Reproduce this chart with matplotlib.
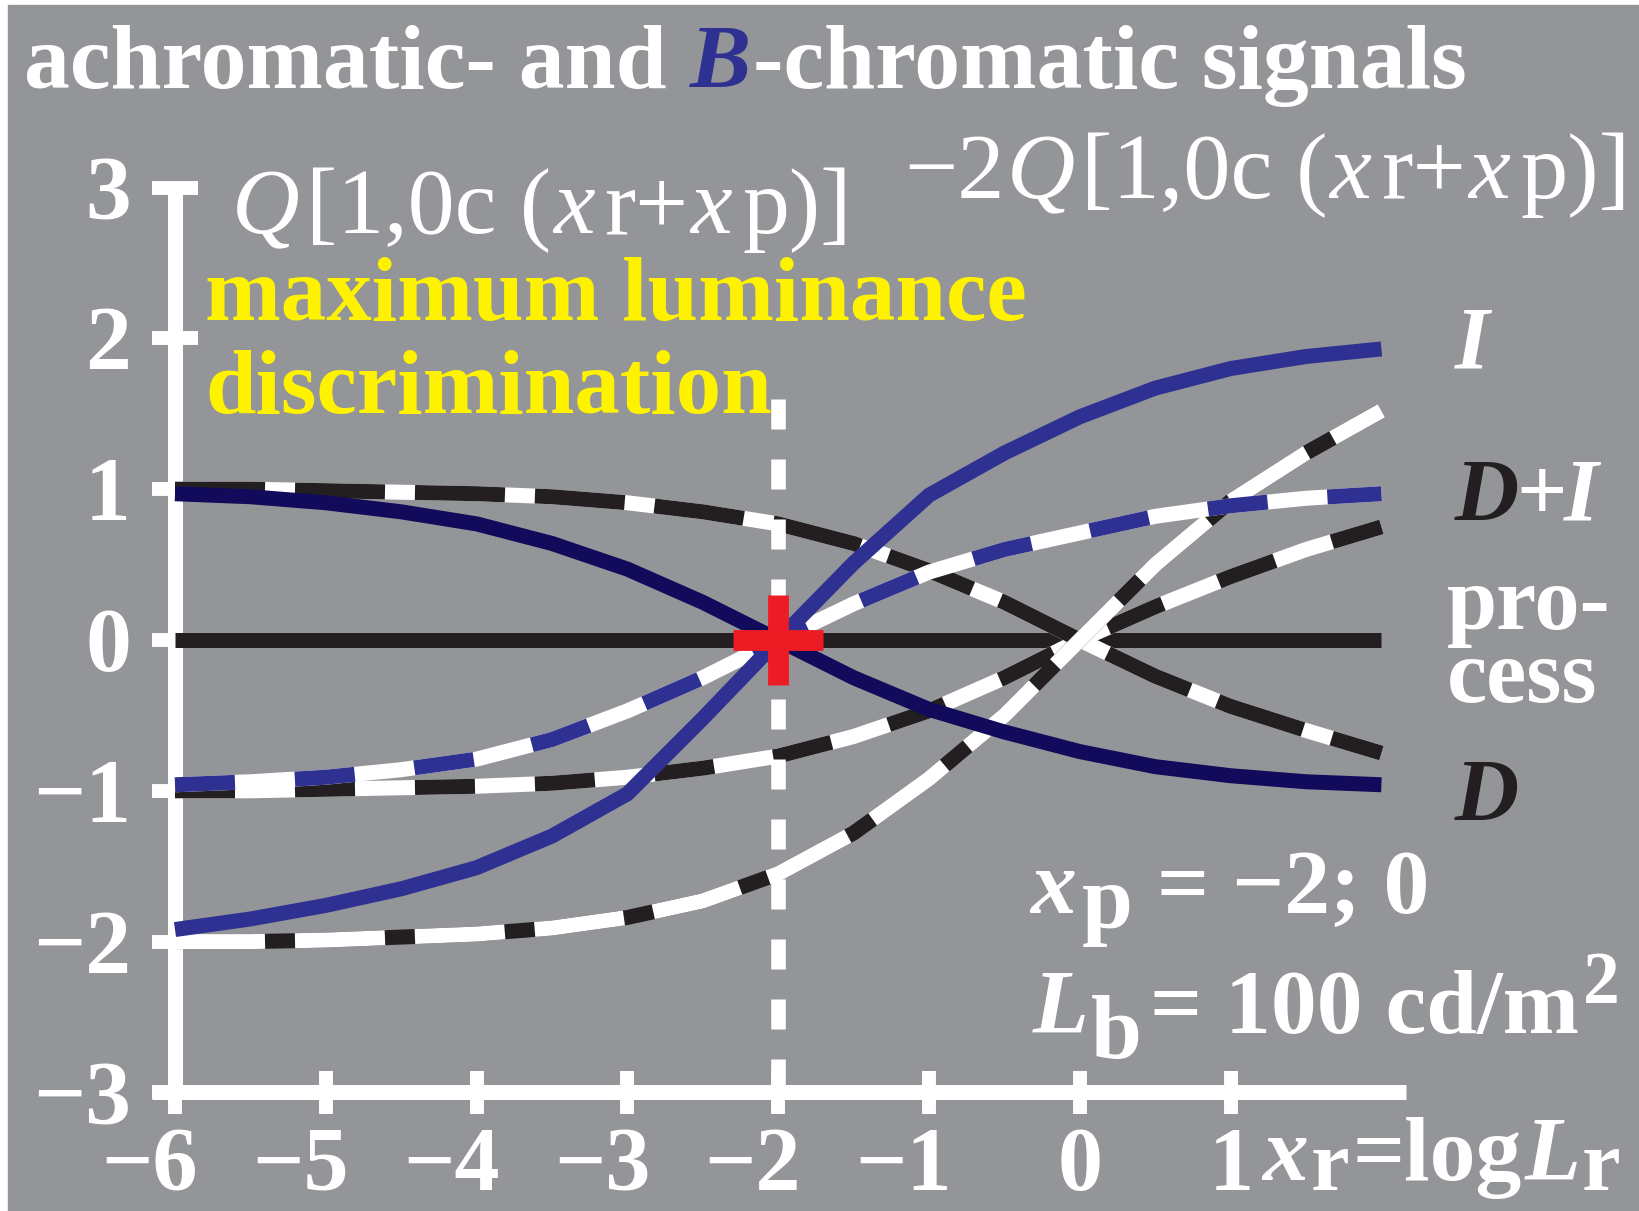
import matplotlib
matplotlib.use('Agg')
import matplotlib.pyplot as plt
from matplotlib.patches import Rectangle
from matplotlib.transforms import offset_copy

plt.rcParams['font.family'] = 'Liberation Serif'
plt.rcParams['lines.scale_dashes'] = False

W, H = 1639, 1211
GREY = '#939598'
NAVY = '#120A5B'
BLUE = '#2E3192'
BLACK = '#231F20'
RED = '#ED1C24'
YELLOW = '#FFF200'
LW = 10.8  # ~15 px

# x_r = log L_r
x_r = [-6, -5.5, -5, -4.5, -4, -3.5, -3, -2.5, -2, -1.5, -1, -0.5, 0, 0.5, 1, 1.5, 2]

# x_p = -2
d_m2 = [0.97, 0.95, 0.91, 0.85, 0.77, 0.64, 0.47, 0.25, 0.0,
        -0.25, -0.46, -0.61, -0.74, -0.84, -0.90, -0.94, -0.96]
i_m2 = [-1.92, -1.85, -1.76, -1.65, -1.51, -1.30, -1.02, -0.52, 0.0,
        0.51, 0.96, 1.24, 1.48, 1.67, 1.80, 1.88, 1.93]
di_m2 = [-0.96, -0.94, -0.91, -0.86, -0.79, -0.66, -0.47, -0.25, 0.0,
         0.24, 0.45, 0.60, 0.71, 0.82, 0.89, 0.94, 0.97]

# x_p = 0
d_0 = [1.0, 1.0, 0.99, 0.98, 0.97, 0.95, 0.91, 0.85, 0.77,
       0.64, 0.46, 0.25, 0.0, -0.24, -0.44, -0.60, -0.75]
i_0 = [-2.0, -2.0, -1.99, -1.97, -1.95, -1.91, -1.84, -1.73, -1.55,
       -1.28, -0.92, -0.50, 0.0, 0.50, 0.92, 1.24, 1.52]
di_0 = [-1.0, -1.0, -0.99, -0.98, -0.97, -0.95, -0.91, -0.85, -0.77,
        -0.64, -0.47, -0.25, 0.0, 0.22, 0.42, 0.60, 0.75]

x_ticks = [-6, -5, -4, -3, -2, -1, 0, 1]
y_ticks = [-3, -2, -1, 0, 1, 2, 3]

fig = plt.figure(figsize=(W / 100, H / 100), dpi=100, facecolor='white')
fig.patches.append(Rectangle((8 / W, 0), 1, 1 - 5 / H, transform=fig.transFigure,
                             color=GREY, zorder=-10))
ax = fig.add_axes([0, 0, 1, 1])
ax.set_facecolor('none')
ax.axis('off')
ax.set_xlim(-7.1605, 3.7082)
ax.set_ylim(-3.7865, 4.2440)

# axes drawn by hand
ax.plot([-6, -6], [-3, 3], color='white', lw=LW, solid_capstyle='butt', zorder=1)
ax.plot([-6.15, 2.16], [-3, -3], color='white', lw=LW, solid_capstyle='butt', zorder=1)
ax.hlines(y_ticks, -6.15, -5.85, color='white', lw=10, zorder=1)
ax.vlines(x_ticks, -3.14, -2.86, color='white', lw=10, zorder=1)

# zero line
ax.plot([x_r[0], x_r[-1]], [0, 0], color=BLACK, lw=LW, solid_capstyle='butt', zorder=2)


def dashed(y, base, top, on, off, z):
    ax.plot(x_r, y, color=base, lw=LW, solid_capstyle='butt', zorder=z)
    ax.plot(x_r, y, color=top, lw=LW, dashes=(on, off), dash_capstyle='butt',
            zorder=z + 0.1)


dashed(d_0, 'white', BLACK, 64.8, 21.6, 3)
dashed(di_0, 'white', BLACK, 43.2, 43.2, 3)
dashed(i_0, BLACK, 'white', 64.8, 21.6, 3)
dashed(di_m2, 'white', BLUE, 43.2, 43.2, 4)
ax.plot(x_r, d_m2, color=NAVY, lw=LW, solid_capstyle='butt', zorder=5)
ax.plot(x_r, i_m2, color=BLUE, lw=LW, solid_capstyle='butt', zorder=5)

# x_p = -2 marker line and cross
ax.plot([-2, -2], [1.6, -3], color='white', lw=10.5, dashes=(21.6, 21.6),
        dash_capstyle='butt', zorder=6)
ax.plot([-2], [0], marker='+', ms=65.5, mew=15, color=RED, zorder=7)

# tick labels
tx = offset_copy(ax.get_xaxis_transform(), fig=fig, x=23, y=0, units='dots')
for v in x_ticks:
    ax.text(v, 1 - 1190 / H, str(v).replace('-', '\u2212'), transform=tx,
            ha='right', va='baseline', color='white', fontsize=65, fontweight='bold')
ty = offset_copy(ax.get_yaxis_transform(), fig=fig, x=0, y=-31, units='dots')
for v in y_ticks:
    ax.text(131 / W, v, str(v).replace('-', '\u2212'), transform=ty,
            ha='right', va='baseline', color='white', fontsize=66, fontweight='bold')

renderer = fig.canvas.get_renderer()


def chain(x, y, parts, size):
    # parts: text, colour, style, weight, dy (px down), size factor, gap after (px)
    for s, c, st, wt, dy, sc, gap in parts:
        t = fig.text(x / W, 1 - (y + dy) / H, s, color=c, fontstyle=st, fontweight=wt,
                     fontsize=size * sc, ha='left', va='baseline')
        x = t.get_window_extent(renderer).x1 + gap


chain(24, 88, [('achromatic- and', 'white', 'normal', 'bold', 0, 1, 23),
               ('B', BLUE, 'italic', 'bold', 0, 1, 2),
               ('-chromatic signals', 'white', 'normal', 'bold', 0, 1, 0)], 66)

q_parts = [('Q', 'white', 'italic', 'normal', 0, 1, 6),
           ('[1,0c (', 'white', 'normal', 'normal', 0, 1, 2),
           ('x', 'white', 'italic', 'normal', 0, 1, 10),
           ('r+', 'white', 'normal', 'normal', 0, 1, 2),
           ('x', 'white', 'italic', 'normal', 0, 1, 10),
           ('p)]', 'white', 'normal', 'normal', 0, 1, 0)]
chain(232, 233, q_parts, 67.5)
chain(904, 198, [('\u22122', 'white', 'normal', 'normal', 0, 1, 2)] + q_parts, 68)

fig.text(205 / W, 1 - 320 / H, 'maximum luminance', color=YELLOW, fontsize=65.5,
         fontweight='bold', ha='left', va='baseline')
fig.text(205 / W, 1 - 413 / H, 'discrimination', color=YELLOW, fontsize=65.5,
         fontweight='bold', ha='left', va='baseline')

# curve labels on the right
chain(1455, 368, [('I', 'white', 'italic', 'bold', 0, 1, 0)], 64)
chain(1455, 520, [('D', BLACK, 'italic', 'bold', 0, 1, -3),
                  ('+', 'white', 'normal', 'bold', 0, 1, -3),
                  ('I', 'white', 'italic', 'bold', 0, 1, 0)], 64)
fig.text(1447 / W, 1 - 702 / H, 'pro-\ncess', color='white', fontsize=65,
         fontweight='bold', ha='left', va='baseline', linespacing=0.85)
chain(1455, 820, [('D', BLACK, 'italic', 'bold', 0, 1, 0)], 64)

chain(1030, 913, [('x', 'white', 'italic', 'bold', 0, 1, 6),
                  ('p', 'white', 'normal', 'bold', 15, 1, 24),
                  ('= \u22122; 0', 'white', 'normal', 'bold', 0, 1, 0)], 66)
chain(1033, 1033, [('L', 'white', 'italic', 'bold', 0, 1, 2),
                   ('b', 'white', 'normal', 'bold', 25, 1, 8),
                   ('= 100 cd/m', 'white', 'normal', 'bold', 0, 1, 4),
                   ('2', 'white', 'normal', 'bold', -30, 0.8, 0)], 66)

chain(1262, 1180, [('x', 'white', 'italic', 'bold', 0, 1, 3),
                   ('r', 'white', 'normal', 'bold', 10, 0.95, 3),
                   ('=log', 'white', 'normal', 'bold', 0, 1, 3),
                   ('L', 'white', 'italic', 'bold', 0, 1, 1),
                   ('r', 'white', 'normal', 'bold', 10, 0.95, 0)], 66)

fig.savefig('out.png', dpi=100, facecolor=fig.get_facecolor())
